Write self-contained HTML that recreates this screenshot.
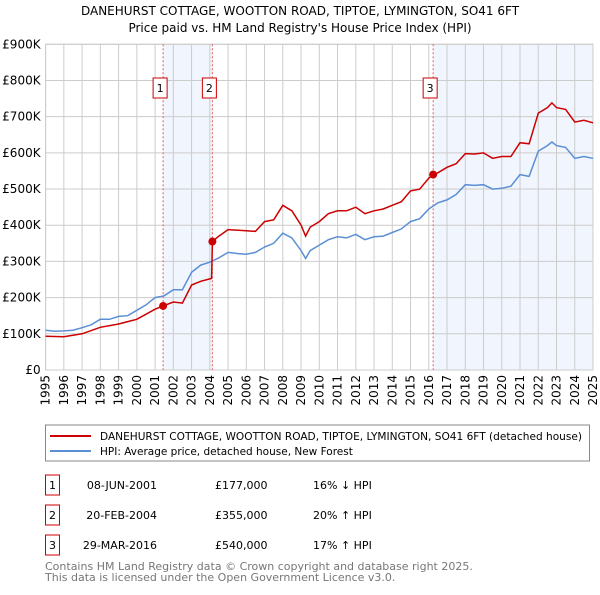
<!DOCTYPE html>
<html><head><meta charset="utf-8"><style>
body{margin:0;background:#fff;font-family:"Liberation Sans",sans-serif;}
svg text{font-family:"DejaVu Sans","Liberation Sans",sans-serif;}
</style></head><body>
<svg id="chart" width="600" height="590" xmlns="http://www.w3.org/2000/svg">
<text x="300" y="15" font-size="12" text-anchor="middle">DANEHURST COTTAGE, WOOTTON ROAD, TIPTOE, LYMINGTON, SO41 6FT</text>
<text x="300" y="32" font-size="12" text-anchor="middle">Price paid vs. HM Land Registry's House Price Index (HPI)</text>
<g id="plot"></g>
<rect x="45.5" y="425" width="544" height="36" fill="#fff" stroke="#888"/>
<line x1="50" y1="436" x2="91" y2="436" stroke="#cc0000" stroke-width="2"/>
<text x="100" y="440" font-size="10.5" textLength="482" lengthAdjust="spacingAndGlyphs">DANEHURST COTTAGE, WOOTTON ROAD, TIPTOE, LYMINGTON, SO41 6FT (detached house)</text>
<line x1="50" y1="451" x2="91" y2="451" stroke="#5b8fd4" stroke-width="2"/>
<text x="100" y="455" font-size="10.5">HPI: Average price, detached house, New Forest</text>
<g font-size="11">
<rect x="45.5" y="475" width="14" height="20" fill="#fff" stroke="#cc0000"/><text x="52.5" y="489" text-anchor="middle">1</text>
<text x="157" y="489" text-anchor="end">08-JUN-2001</text><text x="215" y="489">£177,000</text><text x="313" y="489">16% ↓ HPI</text>
<rect x="45.5" y="505" width="14" height="20" fill="#fff" stroke="#cc0000"/><text x="52.5" y="519" text-anchor="middle">2</text>
<text x="157" y="519" text-anchor="end">20-FEB-2004</text><text x="215" y="519">£355,000</text><text x="313" y="519">20% ↑ HPI</text>
<rect x="45.5" y="535" width="14" height="20" fill="#fff" stroke="#cc0000"/><text x="52.5" y="549" text-anchor="middle">3</text>
<text x="157" y="549" text-anchor="end">29-MAR-2016</text><text x="215" y="549">£540,000</text><text x="313" y="549">17% ↑ HPI</text>
</g>
<text x="45" y="570" font-size="11" fill="#777">Contains HM Land Registry data © Crown copyright and database right 2025.</text>
<text x="45" y="581" font-size="11" fill="#777">This data is licensed under the Open Government Licence v3.0.</text>
</svg>
<script>
const hpiYears=[1995,1995.5,1996,1996.5,1997,1997.5,1998,1998.5,1999,1999.5,2000,2000.5,2001,2001.5,2002,2002.5,2003,2003.5,2004,2004.5,2005,2005.5,2006,2006.5,2007,2007.5,2008,2008.5,2009,2009.25,2009.5,2010,2010.5,2011,2011.5,2012,2012.5,2013,2013.5,2014,2014.5,2015,2015.5,2016,2016.5,2017,2017.5,2018,2018.5,2019,2019.5,2020,2020.5,2021,2021.5,2022,2022.5,2022.75,2023,2023.5,2024,2024.5,2025];
const hpiValues=[110,107,108,110,117,125,140,140,148,150,165,180,200,205,222,222,270,290,298,310,325,322,320,325,340,350,378,365,330,308,330,345,360,368,365,375,360,368,370,380,390,410,418,445,462,470,485,512,510,512,500,502,508,540,535,605,620,630,620,615,585,590,585];
const propYears=[1995,1996,1997,1998,1999,2000,2001,2001.44,2002,2002.5,2003,2003.5,2004.1,2004.14,2004.5,2005,2006,2006.5,2007,2007.5,2008,2008.5,2009,2009.25,2009.5,2010,2010.5,2011,2011.5,2012,2012.5,2013,2013.5,2014,2014.5,2015,2015.5,2016,2016.24,2016.5,2017,2017.5,2018,2018.5,2019,2019.5,2020,2020.5,2021,2021.5,2022,2022.5,2022.75,2023,2023.5,2024,2024.5,2025];
const propValues=[93,92,100,118,127,140,168,177,188,185,235,245,253,355,370,388,385,383,410,415,455,440,400,370,395,410,432,440,440,450,432,440,445,455,465,495,500,530,540,545,560,570,598,597,600,585,590,590,628,625,710,725,738,725,720,685,690,683];
const saleYears=[2001.44,2004.14,2016.24];
const saleValues=[177,355,540];
const saleLabels=["1","2","3"];
const yTicks=[0,100,200,300,400,500,600,700,800,900];
const yTickLabels=["£0","£100K","£200K","£300K","£400K","£500K","£600K","£700K","£800K","£900K"];
const xTicks=[1995,1996,1997,1998,1999,2000,2001,2002,2003,2004,2005,2006,2007,2008,2009,2010,2011,2012,2013,2014,2015,2016,2017,2018,2019,2020,2021,2022,2023,2024,2025];

const L=45.6,R=593,T=44.3,B=370;
const xs=y=>L+(y-1995)/30*(R-L);
const ys=v=>B-v/900*(B-T);
const NS="http://www.w3.org/2000/svg";
const g=document.getElementById('plot');
function mk(tag,attrs){const e=document.createElementNS(NS,tag);for(const k in attrs)e.setAttribute(k,attrs[k]);g.appendChild(e);return e;}

let s1=mk('rect',{x:xs(saleYears[0]),y:T,width:xs(saleYears[1])-xs(saleYears[0]),height:B-T,fill:'#f1f5fd'});


let s2=mk('rect',{x:xs(saleYears[2]),y:T,width:R-xs(saleYears[2]),height:B-T,fill:'#f1f5fd'});



yTicks.forEach((v,i)=>{
  let ln=mk('line',{x1:L,x2:R,y1:ys(v),y2:ys(v),stroke:'#ccc'});
  
  
  let t=mk('text',{x:L-5,y:ys(v)+4,'font-size':12,'text-anchor':'end'});
  t.textContent=yTickLabels[i];
  
  
});
xTicks.forEach(y=>{
  let ln=mk('line',{x1:xs(y),x2:xs(y),y1:T,y2:B,stroke:'#ccc'});
  
  
  let t=mk('text',{x:0,y:0,'font-size':12,'text-anchor':'end',transform:`translate(${xs(y)+4},${B+5}) rotate(-90)`});
  t.textContent=y;
  
  
});
let fr=mk('rect',{x:L,y:T,width:R-L,height:B-T,fill:'none',stroke:'#ccc'});



saleYears.forEach((y,i)=>{
  let ln=mk('line',{x1:xs(y),x2:xs(y),y1:T,y2:B,stroke:'#e06060','stroke-dasharray':'2,2'});
  
  
});

function pts(xa,va){return xa.map((y,i)=>xs(y).toFixed(1)+','+ys(va[i]).toFixed(1)).join(' ');}
let hl=mk('polyline',{points:pts(hpiYears,hpiValues),fill:'none',stroke:'#5b8fd4','stroke-width':1.5});


let pl=mk('polyline',{points:pts(propYears,propValues),fill:'none',stroke:'#cc0000','stroke-width':1.5});



saleYears.forEach((y,i)=>{
  let c=mk('circle',{cx:xs(y),cy:ys(saleValues[i]),r:4,fill:'#cc0000'});
  
  
  let bx=mk('rect',{x:xs(y)-10,y:78,width:14,height:20,fill:'#fff',stroke:'#cc0000'});
  
  
  let t=mk('text',{x:xs(y)-3,y:92,'font-size':11,'text-anchor':'middle'});
  t.textContent=saleLabels[i];
  
  
});
</script>
</body></html>
